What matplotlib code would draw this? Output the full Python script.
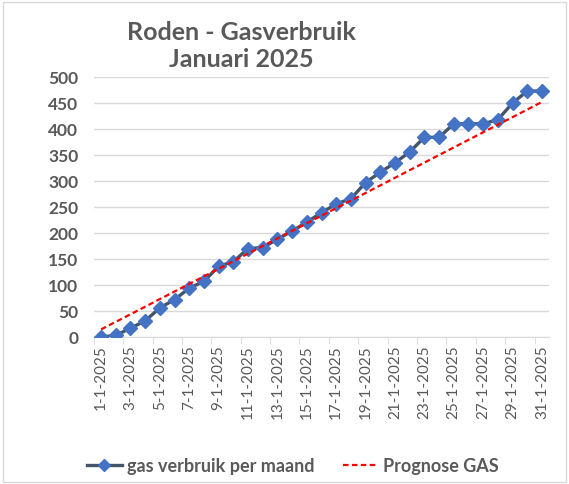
import matplotlib
matplotlib.use("Agg")
import matplotlib.pyplot as plt
from matplotlib.lines import Line2D
from matplotlib.patches import Rectangle

days = list(range(1, 32))
date_labels = [f"{d}-1-2025" for d in days]
verbruik = [0, 3, 17, 31, 56, 72, 94, 107, 136, 145, 170, 172, 188, 204, 221, 239,
            256, 266, 297, 317, 335, 356, 384, 384, 410, 410, 410, 418, 450, 473, 473]
prognose = [14.6, 29.2, 43.7, 58.3, 72.9, 87.5, 102.1, 116.6, 131.2, 145.8, 160.4,
            175.0, 189.6, 204.1, 218.7, 233.3, 247.9, 262.5, 277.0, 291.6, 306.2,
            320.8, 335.4, 350.0, 364.5, 379.1, 393.7, 408.3, 422.9, 437.4, 452.0]
y_ticks = [0, 50, 100, 150, 200, 250, 300, 350, 400, 450, 500]

FONT = ["Lato", "DejaVu Sans"]
plt.rcParams['font.family'] = FONT
GRAY = "#595959"

fig = plt.figure(figsize=(5.69, 4.84), dpi=100)
ax = fig.add_axes([0.1647, 0.3037, 0.8007, 0.5372])

ax.plot(days, verbruik, color="#44546A", lw=2.4, marker="D", markersize=7,
        markerfacecolor="#4472C4", markeredgecolor="#4472C4", zorder=3,
        label="gas verbruik per maand")
ax.plot(days, prognose, color="#FF0000", lw=1.6, linestyle=(0, (2.5, 1.5)), zorder=4,
        label="Prognose GAS")

ax.set_xlim(0.5, 31.5)
ax.set_ylim(0, 500)
ax.set_yticks(y_ticks)
ax.set_yticklabels([str(v) for v in y_ticks], fontsize=12.5, fontweight="bold", color=GRAY)
ax.yaxis.grid(True, color="#D9D9D9", lw=1)
ax.set_axisbelow(True)
ax.tick_params(axis="y", length=0, pad=11)

ax.set_xticks(days[::2])
ax.set_xticklabels(date_labels[::2], rotation=90, fontsize=11, color=GRAY)
ax.set_xticks([0.5 + 2 * i for i in range(16)], minor=True)
ax.tick_params(axis="x", which="major", length=0, pad=6)
ax.tick_params(axis="x", which="minor", length=5, color="#D9D9D9")

for s in ["top", "right", "left"]:
    ax.spines[s].set_visible(False)
ax.spines["bottom"].set_color("#D9D9D9")

fig.text(0.424, 0.905, "Roden - Gasverbruik\nJanuari 2025", ha="center", va="center",
         fontsize=18, fontweight="bold", color=GRAY, linespacing=1.25)

handles = [Line2D([0], [0], color="#44546A", lw=2.4, marker="D", markersize=6,
                  markerfacecolor="#4472C4", markeredgecolor="#4472C4"),
           Line2D([0], [0], color="#FF0000", lw=1.6, linestyle=(0, (2.5, 1.5)))]
leg = fig.legend(handles, ["gas verbruik per maand", "Prognose GAS"], loc="center",
                 bbox_to_anchor=(0.515, 0.037), ncol=2, frameon=False, fontsize=13,
                 handlelength=1.9, columnspacing=1.6, handletextpad=0.3)
for t in leg.get_texts():
    t.set_color(GRAY)
    t.set_fontweight("bold")

fig.patches.append(Rectangle((0.005, 0.005), 0.99, 0.99, transform=fig.transFigure,
                             fill=False, edgecolor="#D9D9D9", lw=1))

fig.savefig("out.png", dpi=100)
